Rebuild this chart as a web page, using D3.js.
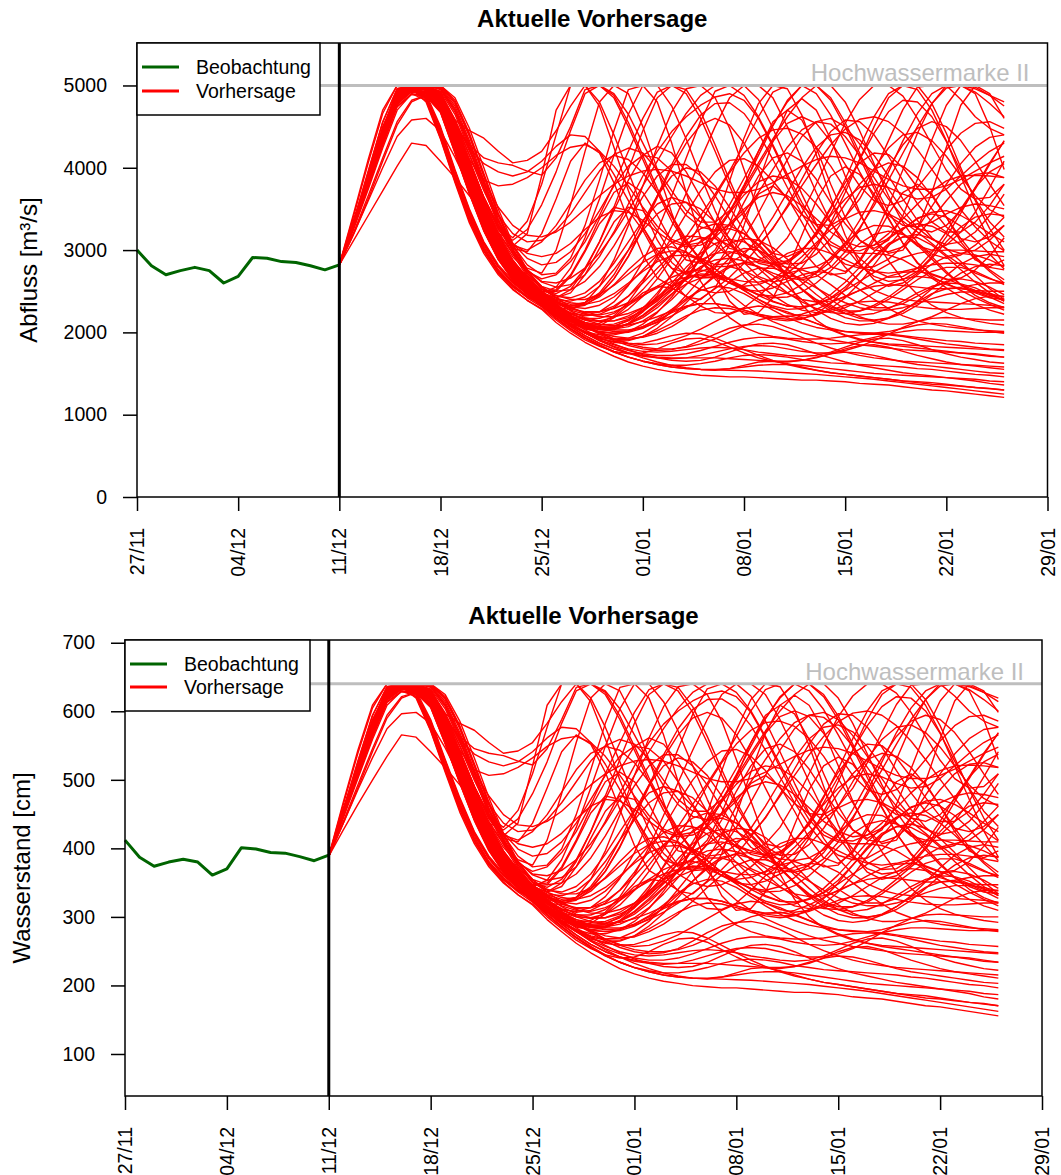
<!DOCTYPE html>
<html>
<head>
<meta charset="utf-8">
<script src="https://cdn.jsdelivr.net/npm/d3@7"></script>
<style>
  body { margin: 0; background: #fff; }
  svg text { font-family: "Liberation Sans", Arial, sans-serif; }
</style>
</head>
<body>
<svg id="chart" width="1061" height="1175"></svg>
<script>
// x axis labels (dd/mm), weekly
const tickLabels = ["27/11", "04/12", "11/12", "18/12", "25/12", "01/01", "08/01", "15/01", "22/01", "29/01"];
const obsStart = "27/11";
const fcStart = "11/12";

// observed values, daily from 27/11 to 11/12
const obsAbfluss = [3000, 2810, 2700, 2750, 2790, 2750, 2600, 2680, 2910, 2900, 2860, 2850, 2810, 2760, 2820];
const obsWasserstand = [412, 387, 374, 380, 384, 380, 361, 370, 401, 399, 394, 393, 388, 382, 390];

const yTicksAbfluss = [0, 1000, 2000, 3000, 4000, 5000];
const yTicksWasserstand = [100, 200, 300, 400, 500, 600, 700];

const hwAbfluss = 5000;      // Hochwassermarke II
const hwWasserstand = 640;

// Abfluss -> Wasserstand pairs
const ratingQ = [1200, 1500, 2000, 2500, 3000, 3500, 4000, 4500, 5000];
const ratingW = [154, 203, 280, 347, 412, 474, 532, 588, 640];

// ensemble forecast of Abfluss, daily from 11/12 to 26/01 (47 values each)
const ensembleAbfluss = [
  [2820,3300,3860,4420,4880,4960,4800,4350,3820,3330,2960,2700,2520,2390,2280,2120,1990,1880,1790,1710,1640,1590,1550,1520,1500,1480,1470,1460,1460,1450,1440,1430,1420,1420,1410,1400,1380,1370,1360,1340,1320,1300,1290,1270,1250,1230,1210],
  [2820,3320,3900,4480,4920,5000,4850,4420,3900,3420,3040,2760,2580,2440,2330,2180,2050,1940,1850,1770,1700,1650,1610,1580,1560,1550,1545,1540,1535,1530,1520,1510,1500,1490,1475,1460,1445,1430,1410,1390,1370,1350,1330,1310,1290,1270,1250],
  [2820,3260,3740,4240,4700,4900,4820,4450,3960,3480,3090,2800,2610,2480,2380,2240,2110,2000,1900,1820,1750,1690,1640,1600,1570,1550,1540,1560,1600,1640,1650,1620,1580,1540,1510,1490,1470,1450,1430,1410,1400,1390,1370,1350,1330,1320,1300],
  [2820,3310,3830,4360,4840,4990,4960,4800,4330,3830,3380,3000,2740,2540,2400,2260,2140,2030,1940,1860,1790,1730,1690,1660,1650,1660,1700,1760,1820,1860,1870,1850,1800,1740,1690,1640,1600,1570,1540,1510,1490,1470,1450,1430,1410,1380,1360],
  [2820,3350,3950,4550,4960,5000,4880,4400,3860,3380,3000,2740,2560,2420,2310,2170,2040,1930,1840,1760,1700,1650,1620,1600,1600,1620,1650,1690,1720,1730,1720,1700,1670,1650,1630,1620,1610,1600,1590,1580,1560,1550,1530,1510,1490,1480,1460],
  [2820,3320,3850,4380,4860,4990,4990,4840,4400,3900,3450,3070,2780,2570,2430,2300,2180,2070,1980,1900,1840,1800,1780,1790,1830,1900,1980,2050,2090,2100,2070,2010,1940,1870,1810,1760,1720,1690,1670,1650,1640,1630,1620,1610,1600,1590,1580],
  [2820,3290,3800,4310,4780,4930,4920,4720,4230,3730,3280,2920,2670,2490,2350,2210,2090,1990,1910,1850,1800,1770,1760,1770,1790,1810,1820,1810,1790,1760,1740,1720,1710,1720,1760,1820,1880,1920,1930,1900,1850,1790,1740,1700,1670,1640,1625],
  [2820,3340,3870,4400,4880,5000,4990,4860,4480,4000,3550,3150,2850,2630,2480,2340,2210,2100,2000,1920,1860,1820,1800,1800,1820,1860,1920,2000,2080,2150,2190,2200,2170,2110,2040,1970,1920,1880,1860,1850,1840,1830,1820,1810,1800,1790,1780],
  [2820,3300,3830,4380,4840,4980,4900,4500,3980,3500,3100,2820,2630,2480,2360,2220,2100,2000,1930,1880,1860,1870,1910,1960,1990,1980,1930,1860,1790,1720,1660,1610,1570,1540,1510,1490,1470,1450,1430,1410,1390,1370,1360,1345,1330,1315,1300],
  [2820,3330,3860,4390,4870,5000,4990,4850,4450,3980,3520,3120,2830,2610,2460,2320,2190,2080,1990,1920,1870,1850,1860,1900,1960,2040,2130,2220,2290,2320,2300,2250,2180,2110,2050,2010,1990,1990,2010,2050,2090,2110,2100,2070,2040,2010,1990],
  [2820,3340,3880,4420,4900,5000,4980,4850,4520,4080,3600,3180,2880,2660,2500,2380,2290,2240,2250,2320,2440,2600,2780,2950,3080,3150,3140,3060,2930,2780,2620,2480,2370,2290,2240,2230,2260,2330,2430,2560,2700,2830,2920,2960,2940,2880,2800],
  [2820,3310,3840,4360,4850,4960,4970,4820,4380,3880,3420,3050,2760,2560,2420,2290,2180,2100,2050,2040,2070,2140,2250,2400,2580,2770,2950,3080,3140,3120,3030,2890,2720,2550,2400,2280,2190,2130,2100,2100,2130,2190,2270,2350,2410,2440,2440],
  [2820,3350,3890,4430,4920,5000,5000,5000,4800,4400,3900,3420,3020,2720,2530,2420,2360,2340,2380,2470,2600,2740,2860,2930,2940,2880,2770,2640,2510,2400,2320,2280,2290,2350,2460,2610,2790,2980,3150,3270,3320,3290,3200,3060,2900,2740,2600],
  [2820,3200,3620,4080,4520,4800,4880,4700,4210,3710,3260,2910,2660,2480,2340,2210,2100,2010,1950,1920,1930,1990,2100,2260,2450,2650,2830,2960,3020,3000,2910,2770,2610,2460,2330,2230,2170,2150,2170,2230,2330,2460,2600,2720,2800,2830,2810],
  [2820,3320,3860,4390,4870,4990,4990,4860,4440,3950,3490,3100,2810,2600,2450,2330,2230,2160,2130,2140,2200,2300,2430,2560,2660,2710,2700,2640,2550,2450,2370,2320,2310,2340,2420,2550,2720,2900,3060,3160,3190,3140,3020,2860,2690,2530,2400],
  [2820,3300,3810,4340,4810,4970,4950,4790,4320,3820,3370,2990,2730,2530,2390,2260,2150,2070,2030,2040,2100,2200,2330,2470,2590,2660,2670,2610,2510,2400,2300,2230,2200,2220,2290,2420,2600,2820,3050,3250,3390,3440,3400,3290,3130,2950,2770],
  [2820,3330,3870,4410,4890,5000,5000,4980,4750,4330,3850,3380,3000,2700,2490,2380,2310,2290,2330,2430,2580,2760,2940,3090,3170,3160,3070,2920,2750,2590,2450,2340,2270,2240,2250,2300,2380,2480,2580,2650,2680,2660,2600,2510,2420,2340,2270],
  [2820,3220,3660,4120,4560,4820,4880,4680,4190,3690,3240,2890,2640,2470,2330,2200,2090,2000,1940,1910,1910,1950,2020,2110,2200,2270,2300,2290,2250,2200,2160,2140,2160,2230,2350,2520,2720,2920,3080,3160,3150,3060,2920,2760,2610,2480,2380],
  [2820,3360,3900,4450,4950,5000,5000,5000,4850,4480,4000,3500,3080,2760,2550,2450,2400,2400,2460,2570,2710,2850,2950,2990,2970,2890,2770,2640,2530,2460,2440,2480,2580,2730,2910,3090,3230,3300,3290,3200,3060,2890,2720,2580,2480,2420,2400],
  [2820,3310,3830,4350,4830,4980,4960,4800,4350,3850,3400,3020,2750,2550,2410,2290,2190,2120,2090,2100,2160,2270,2420,2600,2790,2960,3080,3130,3100,3000,2850,2680,2520,2390,2290,2230,2210,2230,2290,2380,2480,2560,2600,2590,2540,2460,2380],
  [2820,3340,3870,4400,4890,5000,5000,4950,4680,4250,3760,3300,2950,2680,2480,2360,2270,2220,2210,2250,2330,2440,2560,2670,2740,2760,2720,2640,2540,2460,2420,2430,2490,2600,2750,2920,3080,3190,3230,3190,3080,2920,2740,2580,2450,2360,2300],
  [2820,3290,3800,4320,4790,4940,4920,4730,4240,3740,3290,2930,2680,2480,2330,2200,2080,1990,1920,1890,1900,1950,2050,2190,2360,2540,2700,2810,2840,2800,2690,2550,2400,2270,2170,2110,2090,2110,2170,2260,2370,2470,2530,2540,2500,2430,2350],
  [2820,3320,3850,4380,4860,4990,4990,4840,4400,3900,3450,3070,2780,2570,2430,2310,2220,2170,2170,2230,2350,2520,2720,2930,3120,3260,3320,3300,3200,3050,2870,2690,2530,2400,2310,2260,2260,2310,2400,2520,2640,2740,2790,2790,2740,2660,2580],
  [2820,3300,3820,4350,4820,4980,4950,4780,4300,3800,3350,2980,2720,2520,2380,2250,2150,2080,2050,2070,2150,2290,2480,2700,2920,3110,3230,3260,3200,3070,2890,2700,2520,2370,2260,2180,2140,2140,2180,2260,2380,2530,2690,2830,2920,2950,2920],
  [2820,3350,3900,4440,4900,5000,5000,4900,4580,4450,4360,4200,4060,4090,4200,4450,4750,5000,5000,4900,4650,4300,3950,3650,3420,3280,3240,3300,3460,3700,3980,4250,4460,4560,4530,4380,4150,3880,3620,3400,3260,3220,3300,3480,3740,4040,4330],
  [2820,3330,3870,4400,4880,4990,4980,4880,4500,4280,4120,4060,4030,3960,3910,4120,4500,4950,5000,4850,4500,4100,3700,3350,3080,2900,2820,2840,2950,3140,3400,3700,4000,4250,4400,4430,4340,4150,3900,3620,3360,3150,3010,2960,3000,3120,3300],
  [2820,3360,3900,4450,4940,5000,5000,4920,4560,4100,3640,3260,3050,3200,3900,4700,5000,5000,4800,4400,3950,3500,3120,2850,2700,2660,2730,2900,3150,3450,3780,4100,4380,4560,4600,4500,4290,4020,3740,3480,3270,3130,3070,3100,3220,3420,3680],
  [2820,3450,4100,4700,5000,5000,4950,4780,4310,3810,3360,2990,2740,2560,2480,2550,2780,3150,3620,4150,4650,5000,5000,4750,4350,3900,3480,3120,2850,2680,2610,2650,2790,3020,3330,3700,4100,4500,4850,5000,5000,4780,4420,4000,3600,3260,3000],
  [2820,3320,3860,4390,4870,4990,4990,4850,4430,3940,3480,3090,2800,2590,2440,2340,2300,2330,2450,2650,2930,3280,3660,4040,4380,4640,4780,4790,4660,4420,4100,3760,3440,3170,2960,2830,2780,2800,2890,3050,3270,3530,3800,4050,4250,4370,4400],
  [2820,3420,4060,4660,5000,5000,4900,4700,4210,3710,3260,2910,2660,2480,2340,2220,2130,2090,2110,2200,2370,2610,2920,3290,3690,4100,4500,4850,5000,5000,4850,4500,4100,3700,3340,3040,2820,2680,2620,2640,2740,2920,3160,3450,3760,4060,4320],
  [2820,3340,3880,4420,4900,5000,4980,4850,4520,4080,3600,3180,2880,2660,2500,2370,2260,2180,2140,2140,2180,2260,2380,2540,2740,2980,3250,3550,3870,4200,4520,4800,5000,5000,4820,4500,4130,3750,3390,3080,2850,2700,2640,2660,2760,2930,3150],
  [2820,3310,3840,4360,4850,4960,4970,4820,4380,3880,3420,3050,2760,2560,2420,2300,2200,2120,2060,2030,2030,2060,2120,2200,2300,2410,2530,2670,2840,3040,3270,3520,3780,4040,4280,4470,4590,4620,4560,4420,4220,3980,3730,3490,3280,3110,2990],
  [2820,3300,3810,4330,4800,4960,4940,4760,4280,3780,3320,2960,2700,2500,2360,2240,2140,2060,2010,1990,2000,2050,2130,2250,2390,2540,2680,2790,2850,2860,2830,2790,2770,2800,2890,3050,3270,3540,3850,4180,4500,4780,4970,5000,4980,4880,4750],
  [2820,3350,3890,4430,4920,5000,5000,5000,4820,4420,3930,3450,3050,2750,2530,2470,2560,2780,3100,3480,3850,4150,4260,4180,3950,3640,3330,3080,2920,2880,2960,3150,3440,3800,4180,4540,4830,5000,5000,4870,4600,4280,3970,3740,3620,3640,3800],
  [2820,3280,3780,4290,4750,4900,4880,4680,4190,3690,3240,2890,2640,2470,2330,2210,2110,2040,2010,2030,2110,2250,2450,2710,3010,3330,3650,3940,4180,4360,4460,4480,4410,4250,4020,3740,3440,3140,2870,2640,2460,2330,2240,2180,2140,2110,2090],
  [2820,3330,3870,4410,4890,5000,4990,4870,4500,4050,3580,3170,2870,2650,2490,2500,2680,2980,3320,3520,3480,3240,2920,2620,2430,2400,2540,2850,3300,3820,4320,4700,4840,4700,4350,3900,3460,3120,2960,3000,3260,3700,4250,4760,5000,4900,4600],
  [2820,3310,3830,4350,4830,4980,4960,4800,4350,3850,3400,3020,2750,2550,2410,2300,2230,2210,2250,2370,2570,2860,3230,3660,4120,4570,4930,5000,5000,4830,4480,4080,3680,3320,3020,2790,2620,2510,2440,2400,2380,2370,2360,2350,2340,2330,2310],
  [2820,3340,3870,4400,4890,5000,4990,4860,4470,4000,3540,3140,2850,2640,2480,2420,2520,2760,3100,3520,3980,4450,4850,5000,4950,4680,4280,3850,3450,3140,2930,2830,2840,2950,3140,3400,3700,3990,4240,4400,4430,4330,4140,3900,3660,3490,3400],
  [2820,3290,3800,4320,4790,4940,4920,4730,4240,3740,3290,2930,2680,2480,2330,2200,2090,2010,1970,1970,2010,2100,2240,2430,2660,2920,3190,3450,3670,3830,3900,3870,3750,3560,3330,3100,2900,2750,2670,2680,2780,2970,3220,3500,3760,3950,4050],
  [2820,3350,3890,4420,4910,5000,5000,4890,4500,4100,3850,3780,3800,3880,4000,4150,4250,4280,4200,4020,3780,3520,3290,3130,3060,3090,3230,3470,3790,4150,4510,4820,5000,5000,4850,4550,4180,3800,3460,3200,3050,3000,3060,3220,3460,3760,4080],
  [2820,3300,3820,4340,4810,4970,4950,4780,4310,3810,3360,2990,2730,2530,2390,2270,2170,2100,2070,2080,2140,2250,2400,2570,2740,2880,2960,2980,2940,2880,2840,2870,2990,3200,3500,3860,4250,4620,4900,5000,4950,4700,4330,3900,3480,3110,2810],
  [2820,3320,3850,4380,4860,4990,4990,4840,4400,3900,3450,3070,2780,2570,2430,2320,2240,2200,2220,2300,2440,2640,2880,3150,3440,3720,3950,4090,4110,4020,3840,3620,3430,3310,3300,3400,3620,3940,4330,4710,4980,5000,5000,4830,4620,4480,4400],
  [2820,3120,3420,3720,4020,4300,4270,4080,3880,3660,3440,3200,2960,2740,2560,2420,2310,2230,2190,2190,2230,2300,2400,2520,2640,2740,2800,2800,2750,2660,2560,2470,2400,2370,2380,2430,2510,2600,2680,2730,2740,2710,2650,2580,2510,2450,2400],
  [2820,3200,3600,4000,4380,4580,4600,4450,4130,3760,3380,3040,2760,2560,2400,2270,2160,2070,2000,1950,1930,1940,1990,2070,2180,2320,2470,2610,2720,2780,2780,2730,2640,2540,2440,2360,2300,2270,2270,2300,2350,2410,2460,2490,2490,2470,2430],
  [2820,3310,3840,4370,4850,4980,4970,4810,4360,3860,3410,3040,2770,2570,2430,2300,2190,2100,2040,2010,2020,2070,2160,2280,2410,2510,2560,2540,2470,2370,2270,2180,2110,2060,2030,2010,2000,1990,1980,1960,1940,1920,1900,1890,1870,1860,1850],
  [2820,3360,3960,4560,4960,5000,4860,4380,3850,3370,2990,2730,2550,2430,2340,2200,2070,1960,1870,1800,1750,1710,1690,1680,1690,1720,1760,1800,1830,1840,1830,1800,1770,1750,1750,1780,1830,1900,1980,2060,2130,2170,2180,2170,2160,2150,2150],
  [2820,3330,3860,4390,4870,5000,4990,4850,4450,3980,3520,3120,2830,2610,2460,2340,2230,2150,2100,2080,2090,2130,2190,2260,2320,2350,2350,2320,2270,2220,2190,2190,2220,2280,2360,2440,2510,2560,2580,2570,2550,2530,2530,2550,2580,2600,2600],
  [2820,3340,3880,4420,4900,5000,4980,4850,4520,4080,3640,3280,3060,3000,3100,3300,3570,3850,4060,4150,4100,3940,3700,3420,3130,2870,2650,2470,2330,2220,2130,2060,2000,1950,1910,1880,1850,1830,1810,1790,1780,1770,1760,1750,1740,1720,1700],
  [2820,3320,3860,4390,4870,4990,4990,4850,4430,3940,3480,3200,3120,3250,3550,3950,4450,4900,5000,4880,4550,4150,3750,3400,3100,2870,2700,2600,2560,2580,2650,2770,2920,3090,3250,3380,3460,3480,3440,3350,3220,3080,2940,2820,2720,2650,2600],
  [2820,3300,3810,4340,4810,4970,4950,4790,4320,3820,3370,2990,2730,2530,2390,2270,2170,2100,2060,2060,2100,2180,2300,2460,2660,2900,3170,3460,3760,4060,4350,4620,4850,5000,5000,4800,4450,4050,3660,3330,3090,2950,2900,2940,3060,3220,3400],
  [2820,3340,3880,4420,4910,5000,5000,4900,4560,4150,3720,3350,3080,2900,2820,2850,2980,3200,3480,3780,4020,4150,4120,3960,3700,3420,3180,3020,2980,3060,3260,3540,3860,4180,4440,4580,4560,4400,4140,3840,3560,3340,3220,3220,3340,3540,3800],
  [2820,3320,3860,4400,4880,5000,4990,4870,4480,4030,3580,3190,2920,2740,2650,2700,2860,3100,3420,3800,4200,4600,4920,5000,4900,4600,4200,3780,3400,3120,2960,2920,3000,3180,3440,3760,4100,4420,4680,4820,4800,4620,4320,3960,3620,3340,3160],
  [2820,3310,3840,4370,4850,4980,4970,4820,4400,3920,3480,3120,2860,2680,2560,2500,2520,2620,2800,3050,3350,3650,3900,4040,4040,3900,3660,3380,3120,2920,2820,2840,2980,3220,3520,3820,4060,4180,4160,4000,3760,3500,3280,3140,3100,3160,3300],
  [2820,3350,3890,4430,4920,5000,5000,4990,4780,4380,3900,3430,3060,2820,2700,2720,2900,3300,3850,4450,4950,5000,4800,4300,3700,3150,2700,2380,2220,2240,2420,2760,3180,3600,3900,4010,3920,3680,3380,3080,2840,2680,2580,2530,2510,2500,2500],
  [2820,3300,3820,4340,4810,4970,4950,4780,4310,3820,3380,3010,2760,2580,2450,2360,2320,2360,2480,2700,3000,3340,3660,3900,4000,3950,3780,3520,3240,2990,2800,2690,2660,2720,2860,3080,3360,3680,4000,4280,4480,4560,4500,4330,4080,3800,3540],
  [2820,3330,3870,4400,4890,5000,4990,4860,4490,4060,3640,3300,3080,2960,2920,2960,3080,3250,3400,3480,3460,3360,3220,3100,3040,3060,3160,3320,3500,3640,3700,3660,3540,3380,3220,3100,3040,3060,3140,3260,3380,3460,3480,3420,3320,3200,3100],
  [2820,3290,3800,4320,4790,4940,4920,4740,4260,3760,3310,2960,2710,2530,2400,2300,2280,2360,2560,2880,3300,3780,4260,4680,4960,5000,4850,4480,3980,3460,2990,2620,2340,2150,2030,1960,1910,1880,1850,1830,1810,1790,1770,1750,1730,1710,1700],
  [2820,3310,3840,4360,4840,4980,4960,4800,4350,3860,3420,3060,2800,2620,2500,2520,2700,3000,3380,3700,3820,3700,3420,3100,2880,2840,3000,3320,3760,4200,4560,4700,4580,4240,3800,3400,3120,3020,3120,3420,3860,4340,4760,5000,4900,4500,3980],
  [2820,3280,3770,4270,4740,4890,4870,4670,4180,3680,3230,2880,2640,2460,2320,2200,2110,2060,2080,2180,2330,2480,2560,2540,2440,2320,2240,2230,2300,2440,2600,2720,2760,2700,2580,2450,2350,2300,2300,2350,2440,2540,2620,2650,2620,2550,2460],
  [2820,3300,3810,4330,4800,4960,4940,4770,4300,3800,3350,2980,2720,2530,2400,2290,2200,2150,2140,2180,2280,2440,2650,2900,3160,3420,3680,3960,4280,4620,4920,5000,5000,4900,4640,4300,3950,3640,3420,3300,3280,3340,3440,3520,3560,3540,3500],
  [2820,3340,3880,4420,4900,5000,4980,4860,4500,4080,3640,3280,3150,3350,3800,4400,5000,5000,4750,4250,3720,3280,2960,2780,2720,2780,2960,3240,3580,3900,4120,4180,4080,3860,3580,3320,3120,3000,2980,3040,3180,3380,3600,3800,3920,3940,3880],
  [2820,3340,3920,4500,4900,4980,4820,4360,3840,3360,2990,2720,2530,2390,2290,2150,2020,1910,1830,1770,1740,1750,1800,1870,1920,1930,1890,1820,1750,1690,1650,1640,1660,1700,1740,1760,1750,1720,1680,1640,1610,1590,1570,1550,1530,1510,1500],
  [2820,3320,3860,4390,4870,4990,4990,4850,4430,3940,3490,3110,2830,2630,2490,2390,2340,2360,2460,2650,2920,3260,3640,4000,4300,4520,4600,4520,4300,3980,3620,3280,3000,2800,2700,2720,2880,3160,3540,3980,4420,4780,5000,5000,4960,4880,4800],
  [2820,3310,3830,4350,4830,4980,4990,4930,4650,4220,3760,3320,2980,2720,2520,2440,2420,2480,2620,2840,3100,3360,3560,3640,3580,3400,3160,2910,2680,2500,2380,2320,2310,2340,2410,2510,2620,2730,2830,2910,2960,2990,3000,3000,2990,2980,2980],
  [2820,3330,3870,4400,4880,5000,4990,4860,4480,4040,3600,3220,2960,2780,2720,3000,3550,4200,4800,5000,4900,4500,3980,3450,2980,2620,2360,2180,2060,1990,1950,1930,1920,1920,1930,1950,1970,1980,1970,1950,1920,1890,1860,1840,1820,1800,1790],
  [2820,3350,3890,4430,4920,5000,5000,4900,4570,4160,3760,3420,3200,3100,3120,3240,3440,3700,3960,4160,4240,4180,3980,3720,3480,3340,3340,3480,3720,4020,4320,4540,4620,4540,4320,4040,3780,3600,3540,3600,3760,3980,4220,4420,4540,4560,4480],
  [2820,3280,3800,4350,4800,4950,4850,4450,3920,3440,3060,2790,2600,2460,2320,2170,2040,1930,1840,1760,1700,1650,1610,1580,1560,1550,1550,1560,1580,1600,1610,1610,1600,1580,1560,1540,1520,1500,1490,1480,1470,1460,1450,1440,1430,1410,1400],
  [2820,3300,3820,4340,4820,4970,4950,4790,4330,3840,3390,3020,2760,2580,2450,2360,2320,2340,2430,2580,2760,2920,3020,3040,2980,2860,2720,2600,2520,2500,2540,2620,2700,2740,2720,2640,2520,2400,2290,2200,2140,2100,2070,2050,2030,2020,2010],
  [2820,3290,3790,4300,4770,4920,4900,4710,4220,3720,3270,2920,2670,2490,2350,2230,2130,2070,2040,2050,2110,2210,2350,2510,2670,2800,2880,2900,2870,2800,2720,2660,2640,2680,2790,2980,3250,3580,3950,4330,4660,4900,5000,5000,4920,4780,4620],
  [2820,3320,3850,4380,4860,4990,4990,4840,4400,3900,3460,3080,2800,2600,2470,2370,2290,2250,2250,2290,2360,2450,2540,2620,2670,2690,2680,2650,2620,2610,2640,2720,2860,3060,3300,3560,3800,3980,4060,4020,3880,3660,3400,3140,2920,2760,2640],
  [2820,3340,3880,4410,4900,5000,5000,4970,4720,4300,3820,3360,3000,2760,2610,2550,2580,2700,2920,3220,3560,3900,4200,4440,4620,4760,4860,4900,4820,4600,4260,3880,3520,3240,3060,2980,2960,2960,2940,2880,2780,2660,2540,2430,2340,2270,2220],
  [2820,3310,3840,4360,4850,4980,4970,4810,4370,3880,3440,3070,2800,2610,2480,2420,2480,2700,3020,3340,3520,3480,3240,2940,2720,2660,2780,3060,3400,3680,3780,3640,3340,3020,2800,2740,2860,3120,3440,3700,3800,3680,3400,3100,2880,2800,2880],
  [2820,3310,3850,4400,4850,4970,4840,4400,3880,3400,3020,2750,2570,2440,2350,2200,2070,1960,1870,1800,1750,1720,1700,1690,1690,1690,1690,1680,1670,1660,1650,1650,1660,1690,1740,1800,1840,1850,1820,1770,1720,1680,1640,1610,1590,1570,1550],
  [2820,3330,3860,4390,4870,5000,5000,4960,4700,4280,3800,3350,3000,2760,2620,2600,2660,2780,2960,3200,3480,3780,4080,4380,4660,4880,5000,5000,4880,4620,4280,3920,3580,3300,3100,3000,2990,3060,3200,3380,3560,3720,3840,3900,3910,3900,3880],
  [2820,3350,3900,4440,4930,5000,5000,4910,4590,4200,3830,3520,3300,3180,3160,3220,3340,3500,3660,3800,3900,3960,3980,3960,3900,3820,3740,3700,3700,3740,3820,3920,4020,4100,4140,4120,4060,3960,3860,3780,3740,3740,3780,3860,3960,4060,4140],
  [2820,3340,3890,4420,4900,5000,5000,4900,4540,4240,4050,3950,3900,3950,4080,4260,4400,4380,4200,3920,3600,3280,3000,2780,2620,2520,2480,2500,2580,2700,2840,2960,3020,3020,2960,2880,2800,2740,2720,2740,2780,2820,2840,2840,2820,2790,2760],
  [2820,3300,3820,4350,4810,4960,4870,4480,3960,3470,3080,2800,2610,2480,2370,2230,2100,1990,1900,1830,1780,1740,1720,1720,1740,1780,1830,1880,1920,1940,1940,1920,1890,1870,1860,1870,1900,1940,1980,2010,2030,2030,2020,2010,2000,2000,2000],
  [2820,3330,3870,4410,4890,5000,4990,4870,4500,4060,3620,3250,3020,2980,3200,3620,4080,4300,4180,3820,3360,2940,2660,2560,2640,2900,3320,3840,4360,4780,5000,4960,4640,4160,3640,3180,2840,2640,2560,2600,2720,2900,3100,3280,3400,3440,3420],
  [2820,3310,3830,4350,4830,4980,4960,4800,4340,3850,3400,3040,2780,2600,2480,2400,2380,2430,2560,2760,3000,3240,3440,3560,3580,3500,3340,3140,2960,2840,2800,2860,3000,3200,3420,3620,3760,3800,3760,3680,3620,3640,3740,3900,4060,4200,4300],
  [2820,3290,3800,4310,4790,4940,4920,4730,4250,3750,3300,2940,2690,2510,2370,2240,2130,2050,2000,1990,2010,2070,2150,2240,2310,2350,2350,2320,2270,2220,2180,2160,2170,2210,2270,2330,2370,2380,2370,2340,2310,2290,2280,2280,2290,2300,2300]
];

const titleText = "Aktuelle Vorhersage";
const hwText = "Hochwassermarke II";
const legendLabels = ["Beobachtung", "Vorhersage"];
const colObs = "#006400", colFc = "#ff0000", colHw = "#bebebe";

const svg = d3.select("#chart");

function parseDay(s) {
  const month = +s.slice(3);
  return d3.utcParse("%d/%m/%Y")(s + "/" + (month >= 11 ? 2022 : 2023));
}

const rating = d3.scaleLinear().domain(ratingQ).range(ratingW);

function drawPanel(p) {
  const g = svg.append("g");
  const x = d3.scaleUtc()
    .domain([parseDay(tickLabels[0]), parseDay(tickLabels[tickLabels.length - 1])])
    .range([p.left, p.right]);
  const y = d3.scaleLinear().domain(p.yDomain).range([p.bottom, p.top]);

  const t0 = parseDay(obsStart), t1 = parseDay(fcStart);

  // title
  g.append("text")
    .attr("x", (p.left + p.right) / 2).attr("y", p.top - 16)
    .attr("text-anchor", "middle")
    .style("font-size", "24px").style("font-weight", "bold")
    .text(titleText);

  // ensemble
  const fcLine = d3.line()
    .x((v, i) => x(d3.utcDay.offset(t1, i)))
    .y(v => y(p.conv(v)));
  g.append("g").selectAll("path").data(ensembleAbfluss).join("path")
    .attr("d", fcLine)
    .attr("fill", "none").attr("stroke", colFc)
    .attr("stroke-width", 1.4).attr("stroke-linejoin", "round");

  // Hochwassermarke
  g.append("line")
    .attr("x1", p.left).attr("x2", p.right)
    .attr("y1", y(p.hw)).attr("y2", y(p.hw))
    .attr("stroke", colHw).attr("stroke-width", 3);
  g.append("text")
    .attr("x", p.right - 18).attr("y", y(p.hw) - 4)
    .attr("text-anchor", "end")
    .attr("fill", colHw)
    .style("font-size", "24px")
    .text(hwText);

  // observation
  const obsLine = d3.line()
    .x((v, i) => x(d3.utcDay.offset(t0, i)))
    .y(v => y(v));
  g.append("path").datum(p.obs)
    .attr("d", obsLine)
    .attr("fill", "none").attr("stroke", colObs)
    .attr("stroke-width", 3).attr("stroke-linejoin", "round");

  // forecast start
  g.append("line")
    .attr("x1", x(t1)).attr("x2", x(t1))
    .attr("y1", p.top).attr("y2", p.bottom)
    .attr("stroke", "#000").attr("stroke-width", 3);

  // axes
  const ya = g.append("g").attr("transform", `translate(${p.left},0)`)
    .call(d3.axisLeft(y).tickValues(p.yTicks).tickSize(14).tickPadding(16).tickFormat(d3.format("d")));
  ya.select(".domain").remove();
  ya.selectAll("line").attr("stroke-width", 1.5);
  ya.selectAll("text").style("font-size", "19.5px").attr("fill", "#000")
    .attr("font-family", null);

  const tickDates = tickLabels.map(parseDay);
  const xa = g.append("g").attr("transform", `translate(0,${p.bottom})`)
    .call(d3.axisBottom(x).tickValues(tickDates).tickSize(14).tickFormat(""));
  xa.select(".domain").remove();
  xa.selectAll("line").attr("stroke-width", 1.5);
  g.append("g").selectAll("text").data(tickLabels).join("text")
    .attr("transform", d => `translate(${x(parseDay(d))},${p.bottom + 31}) rotate(-90)`)
    .attr("text-anchor", "end")
    .attr("dominant-baseline", "central")
    .style("font-size", "19.5px")
    .text(d => d);

  // box
  g.append("rect")
    .attr("x", p.left).attr("y", p.top)
    .attr("width", p.right - p.left).attr("height", p.bottom - p.top)
    .attr("fill", "none").attr("stroke", "#000").attr("stroke-width", 1.5);

  // y label
  g.append("text")
    .attr("transform", `translate(${p.ylabX},${(p.top + p.bottom) / 2}) rotate(-90)`)
    .attr("text-anchor", "middle")
    .style("font-size", "24px")
    .text(p.ylab);

  // legend
  const lg = g.append("g").attr("transform", `translate(${p.left},${p.top})`);
  lg.append("rect")
    .attr("width", p.legW).attr("height", p.legH)
    .attr("fill", "#fff").attr("stroke", "#000").attr("stroke-width", 1.5);
  legendLabels.forEach((lab, i) => {
    const ly = p.legY[i];
    lg.append("line")
      .attr("x1", 5).attr("x2", 42).attr("y1", ly).attr("y2", ly)
      .attr("stroke", i === 0 ? colObs : colFc).attr("stroke-width", 3);
    lg.append("text")
      .attr("x", 59).attr("y", ly)
      .attr("dominant-baseline", "central")
      .style("font-size", "19.5px")
      .text(lab);
  });
}

drawPanel({
  left: 137, right: 1047.5, top: 43, bottom: 497,
  yDomain: [0, 5516], yTicks: yTicksAbfluss,
  obs: obsAbfluss, conv: v => v, hw: hwAbfluss,
  ylab: "Abfluss [m³/s]", ylabX: 37,
  legW: 183, legH: 72, legY: [24, 48]
});

drawPanel({
  left: 125, right: 1042, top: 640, bottom: 1096,
  yDomain: [38.7, 704], yTicks: yTicksWasserstand,
  obs: obsWasserstand, conv: v => rating(v), hw: hwWasserstand,
  ylab: "Wasserstand [cm]", ylabX: 30,
  legW: 185, legH: 71, legY: [24, 47]
});
</script>
</body>
</html>
